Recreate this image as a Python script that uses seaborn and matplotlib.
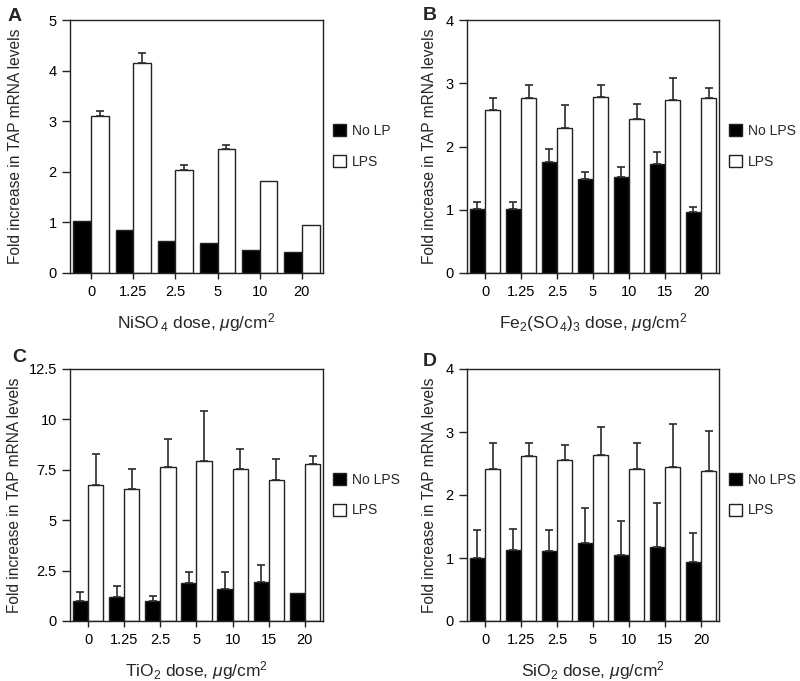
import numpy as np
import pandas as pd
import matplotlib
matplotlib.use("Agg")
import matplotlib.pyplot as plt
import seaborn as sns
from matplotlib.patches import Patch
from matplotlib.ticker import FuncFormatter

sns.set_style("ticks")
plt.rcParams["font.family"] = ["Liberation Sans", "DejaVu Sans"]
plt.rcParams["mathtext.fontset"] = "custom"
plt.rcParams["mathtext.rm"] = "Liberation Sans"
plt.rcParams["mathtext.it"] = "Liberation Sans:italic"

# ---------------- data ----------------
doses_a = ["0", "1.25", "2.5", "5", "10", "20"]
a_nolps = [1.02, 0.84, 0.64, 0.59, 0.45, 0.41]
a_nolps_err = [0, 0, 0, 0, 0, 0]
a_lps = [3.11, 4.16, 2.03, 2.46, 1.81, 0.95]
a_lps_err = [0.10, 0.18, 0.10, 0.07, 0, 0]

doses_b = ["0", "1.25", "2.5", "5", "10", "15", "20"]
b_nolps = [1.01, 1.01, 1.75, 1.48, 1.52, 1.73, 0.97]
b_nolps_err = [0.11, 0.12, 0.21, 0.11, 0.16, 0.19, 0.08]
b_lps = [2.58, 2.76, 2.29, 2.78, 2.43, 2.73, 2.76]
b_lps_err = [0.18, 0.22, 0.37, 0.20, 0.24, 0.35, 0.16]

doses_c = ["0", "1.25", "2.5", "5", "10", "15", "20"]
c_nolps = [1.01, 1.21, 1.01, 1.89, 1.59, 1.95, 1.37]
c_nolps_err = [0.41, 0.54, 0.22, 0.54, 0.86, 0.83, 0]
c_lps = [6.75, 6.57, 7.62, 7.95, 7.52, 6.99, 7.80]
c_lps_err = [1.54, 0.95, 1.39, 2.48, 1.02, 1.07, 0.38]

doses_d = ["0", "1.25", "2.5", "5", "10", "15", "20"]
d_nolps = [1.00, 1.12, 1.11, 1.245, 1.04, 1.18, 0.94]
d_nolps_err = [0.44, 0.34, 0.33, 0.555, 0.54, 0.70, 0.46]
d_lps = [2.41, 2.62, 2.55, 2.64, 2.41, 2.44, 2.38]
d_lps_err = [0.41, 0.20, 0.25, 0.44, 0.41, 0.68, 0.64]

groups = ["No LPS", "LPS"]
ylabel = "Fold increase in TAP mRNA levels"

panels = [
    dict(letter="A", doses=doses_a, no=a_nolps, noe=a_nolps_err, lp=a_lps, lpe=a_lps_err,
         ticks=[0, 1, 2, 3, 4, 5], xlabel="NiSO$_{\\,4}$ dose, $\\mu$g/cm$^{2}$",
         legend=["No LP", "LPS"]),
    dict(letter="B", doses=doses_b, no=b_nolps, noe=b_nolps_err, lp=b_lps, lpe=b_lps_err,
         ticks=[0, 1, 2, 3, 4], xlabel="Fe$_{2}$(SO$_{\\,4}$)$_{3}$ dose, $\\mu$g/cm$^{2}$",
         legend=["No LPS", "LPS"]),
    dict(letter="C", doses=doses_c, no=c_nolps, noe=c_nolps_err, lp=c_lps, lpe=c_lps_err,
         ticks=[0, 2.5, 5, 7.5, 10, 12.5], xlabel="TiO$_{2}$ dose, $\\mu$g/cm$^{2}$",
         legend=["No LPS", "LPS"]),
    dict(letter="D", doses=doses_d, no=d_nolps, noe=d_nolps_err, lp=d_lps, lpe=d_lps_err,
         ticks=[0, 1, 2, 3, 4], xlabel="SiO$_{2}$ dose, $\\mu$g/cm$^{2}$",
         legend=["No LPS", "LPS"]),
]

W, H = 800, 681
fig = plt.figure(figsize=(8, 6.81), dpi=100)

boxes = {
    "A": (70, 20, 323, 273),
    "B": (467, 20, 719, 273),
    "C": (70, 369, 323, 621),
    "D": (467, 369, 719, 621),
}
ylabel_right = {"A": 23, "B": 437, "C": 22, "D": 437}
letter_pos = {"A": (8, 21), "B": (423, 20), "C": (12, 362), "D": (423, 366)}
edge = "#222222"

for p in panels:
    L = p["letter"]
    x0, y0, x1, y1 = boxes[L]
    ax = fig.add_axes([x0 / W, 1 - y1 / H, (x1 - x0) / W, (y1 - y0) / H])
    n = len(p["doses"])
    df = pd.DataFrame({
        "dose": p["doses"] * 2,
        "group": [groups[0]] * n + [groups[1]] * n,
        "value": list(p["no"]) + list(p["lp"]),
    })
    sns.barplot(data=df, x="dose", y="value", hue="group", order=p["doses"],
                hue_order=groups, palette=["black", "white"], edgecolor=edge,
                linewidth=1.0, width=0.84, errorbar=None, legend=False, ax=ax)
    errs = [p["noe"], p["lpe"]]
    vals = [p["no"], p["lp"]]
    bar_conts = list(ax.containers)[:2]
    for ci, cont in enumerate(bar_conts):
        for bar, v, e in zip(cont, vals[ci], errs[ci]):
            if e > 0:
                xc = bar.get_x() + bar.get_width() / 2
                ax.errorbar([xc], [v], yerr=[[0], [e]], fmt="none", ecolor="#2a2a2a",
                            elinewidth=1.2, capsize=3.2, capthick=1.2, zorder=1)
    ax.set_ylim(p["ticks"][0], p["ticks"][-1])
    ax.set_yticks(p["ticks"])
    ax.yaxis.set_major_formatter(FuncFormatter(lambda v, pos: "%g" % v))
    ax.set_xlim(-0.5, n - 0.5)
    for s in ax.spines.values():
        s.set_visible(True)
        s.set_linewidth(1.0)
        s.set_color(edge)
    ax.tick_params(axis="y", direction="out", length=6, width=1.0, labelsize=10.5,
                   colors=edge, labelcolor="black", pad=3.5)
    ax.tick_params(axis="x", direction="out", length=4, width=1.0, labelsize=10.5,
                   colors=edge, labelcolor="black", pad=5)
    ax.set_ylabel(ylabel, fontsize=11.2)
    ax.yaxis.set_label_coords((ylabel_right[L] - x0) / (x1 - x0), 0.5)
    ax.set_xlabel(p["xlabel"], fontsize=12.5, labelpad=8)
    handles = [Patch(facecolor="black", edgecolor=edge, linewidth=1),
               Patch(facecolor="white", edgecolor=edge, linewidth=1)]
    ax.legend(handles, p["legend"], loc="center left", bbox_to_anchor=(1.0, 0.5),
              frameon=False, fontsize=10, handlelength=0.95, handleheight=0.95,
              handletextpad=0.45, labelspacing=1.2, borderaxespad=0.3)
    lx, ly = letter_pos[L]
    fig.text(lx / W, 1 - ly / H, L, fontsize=14, fontweight="bold",
             ha="left", va="baseline")

fig.savefig("out.png", dpi=100, facecolor="white")
